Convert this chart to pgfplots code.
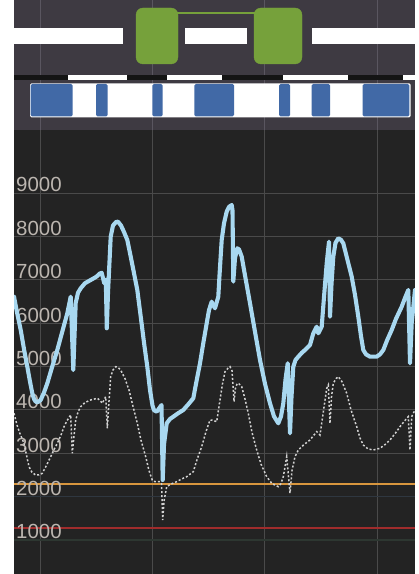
\documentclass[border=0pt]{standalone}
\usepackage{pgfplots}
\pgfplotsset{compat=1.18}
\usepackage{fontspec}
\setmainfont{Liberation Sans}
\definecolor{bg}{HTML}{232323}
\definecolor{band}{HTML}{3E3A42}
\definecolor{bandgrid}{HTML}{5A5660}
\definecolor{gridc}{HTML}{4A4A4A}
\definecolor{gridb}{HTML}{2F3740}
\definecolor{gridg}{HTML}{2D3731}
\definecolor{lab}{HTML}{BCB6B0}
\definecolor{lblue}{HTML}{A8D8F0}
\definecolor{dotc}{HTML}{D2D2D2}
\definecolor{orng}{HTML}{D8963E}
\definecolor{grn}{HTML}{76A13B}
\definecolor{blu}{HTML}{4169A6}
\definecolor{stripk}{HTML}{141414}
\begin{document}
\begin{tikzpicture}
\begin{axis}[set layers, at={(0,0)}, anchor=south west, scale only axis,
  width=401bp, height=444bp, xmin=14, xmax=415, ymin=216, ymax=10452,
  axis background/.style={fill=bg}, axis line style={draw=none},
  major tick length=0pt,
  xtick={40,152.3,264.7,377}, xticklabels={},
  ytick={1000,2000,3000,4000,5000,6000,7000,8000,9000},
  yticklabels={1000,2000,3000,4000,5000,6000,7000,8000,9000},
  xmajorgrids, ymajorgrids, grid style={gridc, line width=0.9bp},
  yticklabel style={anchor=base west, inner sep=0pt, xshift=2bp, yshift=1bp,
    font=\fontsize{20.5}{24}\selectfont, text=lab}]
\addplot[draw=gridb, line width=1.1bp, on layer=axis grid] table {
x y
14 2000
415 2000
};
\addplot[draw=gridg, line width=1.1bp, on layer=axis grid] table {
x y
14 1000
415 1000
};
\addplot[draw=orng, line width=1.4bp, on layer=axis grid] table {
x y
14 2290
415 2290
};
\addplot[draw={rgb,255:red,160;green,44;blue,44}, line width=2bp, on layer=axis grid] table {
x y
14 1283
415 1283
};
% dotted series
\addplot[draw=dotc, line width=1.5bp, dash pattern=on 2bp off 2bp] coordinates {
(14,3920)(17,3650)(20,3450)(24,3229)(27,2900)(29,2690)(32,2560)(35.7,2498)(39,2500)(42.3,2538)
(46,2700)(50.7,2920)(54,3080)(57.3,3229)(61,3420)(64,3612)(67,3750)(70.7,3882)(72.3,3000)(74,3400)
(75.7,3766)(78,3950)(80.7,4073)(85,4170)(90.7,4228)(97.3,4267)(100,4220)(102.3,4151)(105.7,4304)(107.3,3575)
(109,4200)(110.7,4765)(113,4920)(115.7,4996)(118,4980)(120.7,4919)(125,4720)(129,4458)(133,4080)(137.3,3690)
(141,3300)(145.7,2920)(149,2600)(152.3,2380)(155,2344)(160,2344)(161.5,2300)(162.7,1461)(164,1900)(166.7,2229)
(171,2290)(176.7,2344)(181,2400)(186.7,2459)(193.3,2575)(197,2850)(201.7,3151)(206,3500)(210,3766)(213,3760)
(216.7,3727)(220,4228)(222.5,4600)(225,4880)(228,4960)(230,4996)(232,4900)(234,4189)(235.5,4500)(237.3,4613)
(239,4600)(241.7,4535)(245,4250)(248.3,3920)(252,3480)(256.7,3075)(261,2750)(266.7,2459)(272,2300)(278.3,2229)
(281,2300)(283.3,2459)(285.5,2750)(286.7,2920)(290,2077)(292,2600)(295,2920)(298.3,3075)(304,3200)(310,3306)
(316.7,3498)(320,3421)(323,3900)(326.7,4497)(328.3,4573)(330,3690)(331.5,4300)(333.3,4612)(336,4720)(338.3,4765)
(342,4650)(346.7,4382)(351,4000)(356.7,3612)(360,3350)(363.3,3190)(368,3100)(373.3,3075)(380,3114)(385,3200)
(390,3306)(395,3450)(400,3612)(404,3730)(408.3,3843)(410,3075)(411.7,3843)(415,4000)};
% blue series
\addplot[draw=lblue, line width=4.1bp, line join=round, line cap=round] coordinates {
(14,6610)(17,6250)(20.7,5842)(24,5400)(27.3,4996)(30,4650)(32.3,4382)(34,4250)(35.7,4188)(38,4180)
(40.7,4228)(44,4400)(47.3,4612)(52,4980)(57.3,5380)(62,5780)(67.3,6226)(70.7,6610)(73.3,4919)(75.7,6464)
(78,6700)(80.7,6803)(85,6920)(90.7,6994)(95,7050)(97.3,7086)(99.5,7140)(101.7,7160)(104.3,6918)(105.8,7000)
(106.8,5880)(108,6700)(110.7,7993)(113,8250)(116,8330)(118,8338)(121,8250)(124,8100)(127.3,7916)(131,7500)
(134,7150)(137.3,6764)(141,6100)(144,5550)(147.3,4995)(150,4458)(152.5,4100)(154,3990)(156.7,3958)(159,4030)
(161.5,4112)(162.7,2383)(164,3200)(166.7,3690)(170,3790)(173.3,3843)(178,3920)(183.3,3997)(188,4120)(193.3,4267)
(196,4600)(200,5074)(203,5500)(206.7,5996)(209,6300)(211.7,6494)(213,6420)(215,6342)(218.3,6610)(219.5,7100)
(221.7,7916)(224,8300)(226.7,8569)(229,8680)(231.7,8723)(232.5,8600)(233.3,6955)(235,7500)(237.3,7725)(239,7700)
(241.7,7531)(245,7100)(250,6457)(255,5800)(260,5150)(265,4600)(270,4151)(274,3850)(278.3,3690)(281,3850)
(283.3,4151)(285.5,4700)(287.7,5074)(290,3460)(291.5,4300)(293.3,4996)(295.5,5150)(298.3,5226)(302,5320)(305,5380)
(310,5496)(313.3,5765)(316.7,5918)(318.3,5765)(321.7,5918)(324,6600)(326.7,7379)(329,7877)(330,6148)(331.5,6900)
(333.3,7531)(335.5,7850)(338.3,7955)(341,7920)(343.3,7840)(347,7500)(351.7,7070)(355,6650)(358.3,6148)(361,5700)
(363.3,5380)(366,5280)(370,5226)(376.7,5226)(380,5280)(383.3,5380)(387,5600)(391.7,5842)(396,6100)(401.7,6379)
(405,6580)(408.3,6764)(410,5074)(411.7,5996)(415,6764)};
\end{axis}
\begin{axis}[at={(0,444bp)}, anchor=south west, scale only axis,
  width=401bp, height=130bp, xmin=14, xmax=415, ymin=0, ymax=130, y dir=reverse,
  axis background/.style={fill=band}, axis line style={draw=none},
  major tick length=0pt, xtick={40,152.3,264.7,377}, xticklabels={}, ytick=\empty,
  xmajorgrids, grid style={bandgrid, line width=0.9bp}]
\addplot[fill=white, draw=none] coordinates {(14,28)(123,28)(123,44)(14,44)} -- cycle;
\addplot[fill=white, draw=none] coordinates {(185,28)(247,28)(247,44)(185,44)} -- cycle;
\addplot[fill=white, draw=none] coordinates {(312,28)(415,28)(415,44)(312,44)} -- cycle;
\addplot[draw=grn, line width=2bp] coordinates {(170,13)(262,13)};
\addplot[fill=grn, draw=grn, rounded corners=7bp] coordinates {(136,8)(178,8)(178,64)(136,64)} -- cycle;
\addplot[fill=grn, draw=grn, rounded corners=7bp] coordinates {(254,8)(302,8)(302,64)(254,64)} -- cycle;
\addplot[fill=stripk, draw=none] coordinates {(14,75)(68,75)(68,80)(14,80)} -- cycle;
\addplot[fill=white, draw=none] coordinates {(68,75)(127,75)(127,80)(68,80)} -- cycle;
\addplot[fill=stripk, draw=none] coordinates {(127,75)(167,75)(167,80)(127,80)} -- cycle;
\addplot[fill=white, draw=none] coordinates {(167,75)(222,75)(222,80)(167,80)} -- cycle;
\addplot[fill=stripk, draw=none] coordinates {(222,75)(283,75)(283,80)(222,80)} -- cycle;
\addplot[fill=white, draw=none] coordinates {(283,75)(348,75)(348,80)(283,80)} -- cycle;
\addplot[fill=stripk, draw=none] coordinates {(348,75)(403,75)(403,80)(348,80)} -- cycle;
\addplot[fill=white, draw=none] coordinates {(403,75)(415,75)(415,80)(403,80)} -- cycle;
\addplot[fill=white, draw=none, rounded corners=1.5bp] coordinates {(30,83.3)(410.7,83.3)(410.7,117.3)(30,117.3)} -- cycle;
\addplot[fill=blu, draw=none, rounded corners=1.5bp] coordinates {(30.7,84)(72.7,84)(72.7,116.5)(30.7,116.5)} -- cycle;
\addplot[fill=blu, draw=none, rounded corners=1.5bp] coordinates {(96,84)(107.7,84)(107.7,116.5)(96,116.5)} -- cycle;
\addplot[fill=blu, draw=none, rounded corners=1.5bp] coordinates {(152.3,84)(162.7,84)(162.7,116.5)(152.3,116.5)} -- cycle;
\addplot[fill=blu, draw=none, rounded corners=1.5bp] coordinates {(194.3,84)(234,84)(234,116.5)(194.3,116.5)} -- cycle;
\addplot[fill=blu, draw=none, rounded corners=1.5bp] coordinates {(279,84)(290,84)(290,116.5)(279,116.5)} -- cycle;
\addplot[fill=blu, draw=none, rounded corners=1.5bp] coordinates {(311.7,84)(330,84)(330,116.5)(311.7,116.5)} -- cycle;
\addplot[fill=blu, draw=none, rounded corners=1.5bp] coordinates {(362.7,84)(409.3,84)(409.3,116.5)(362.7,116.5)} -- cycle;
\end{axis}
\pgfresetboundingbox
\fill[white] (-14bp,0) rectangle (0,574bp);
\fill[white] (401bp,0) rectangle (405bp,574bp);
\path[use as bounding box] (-14bp,0) rectangle (405bp,574bp);
\end{tikzpicture}
\end{document}
